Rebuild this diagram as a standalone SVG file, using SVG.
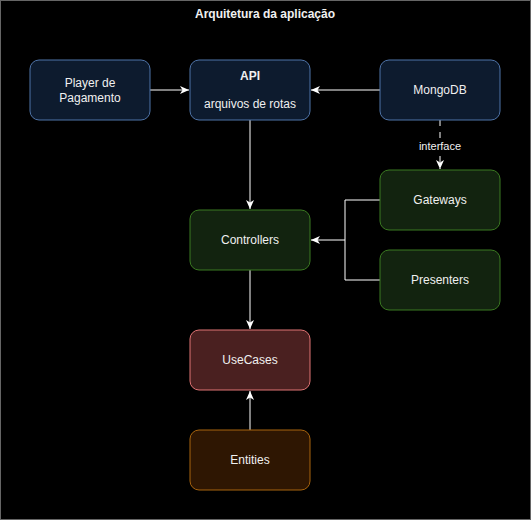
<svg xmlns="http://www.w3.org/2000/svg" width="532" height="521" viewBox="0 0 532 521">
<defs>
<style>
text{font-family:"Liberation Sans",Arial,sans-serif;font-size:12px;fill:#f0f0f0;text-anchor:middle;dominant-baseline:central}
.blue{fill:#0d1b2e;stroke:#4f74a8;stroke-width:1}
.green{fill:#12230f;stroke:#3b7a22;stroke-width:1}
.red{fill:#4a2020;stroke:#e07474;stroke-width:1}
.brown{fill:#2e1602;stroke:#a8640e;stroke-width:1}
.edge{fill:none;stroke:#ffffff;stroke-width:1}
</style>
<marker id="arr" viewBox="0 0 10 10" refX="9" refY="5" markerWidth="10" markerHeight="10" markerUnits="userSpaceOnUse" orient="auto">
<path d="M0,1 L9,5 L0,9 L2.5,5 Z" fill="#ffffff"/>
</marker>
</defs>
<rect x="0.5" y="0.5" width="530" height="519" fill="#000000" stroke="#666666"/>
<text x="265" y="14" style="font-weight:bold">Arquitetura da aplicação</text>
<g id="connectors">
<path class="edge" d="M150,90 L189,90" marker-end="url(#arr)"/>
<path class="edge" d="M380,90 L311,90" marker-end="url(#arr)"/>
<path class="edge" d="M250,120 L250,209" marker-end="url(#arr)"/>
<path class="edge" d="M440,120 L440,169" stroke-dasharray="6 6" marker-end="url(#arr)"/>
<rect x="417" y="139" width="46" height="14" fill="#000000"/>
<text x="440" y="146" style="font-size:11px">interface</text>
<path class="edge" d="M380,200 L345,200 L345,240 L311,240" marker-end="url(#arr)"/>
<path class="edge" d="M380,280 L345,280 L345,240"/>
<path class="edge" d="M250,270 L250,329" marker-end="url(#arr)"/>
<path class="edge" d="M250,430 L250,391" marker-end="url(#arr)"/>
</g>
<g id="player"><rect class="blue" x="30" y="60" width="120" height="60" rx="9"/><text x="90" y="83">Player de</text><text x="90" y="98">Pagamento</text></g>
<g id="api"><rect class="blue" x="190" y="60" width="120" height="60" rx="9"/><text x="250" y="76" style="font-weight:bold">API</text><text x="250" y="104">arquivos de rotas</text></g>
<g id="mongodb"><rect class="blue" x="380" y="60" width="120" height="60" rx="9"/><text x="440" y="90">MongoDB</text></g>
<g id="gateways"><rect class="green" x="380" y="170" width="120" height="60" rx="9"/><text x="440" y="200">Gateways</text></g>
<g id="controllers"><rect class="green" x="190" y="210" width="120" height="60" rx="9"/><text x="250" y="240">Controllers</text></g>
<g id="presenters"><rect class="green" x="380" y="250" width="120" height="60" rx="9"/><text x="440" y="280">Presenters</text></g>
<g id="usecases"><rect class="red" x="190" y="330" width="120" height="60" rx="9"/><text x="250" y="360">UseCases</text></g>
<g id="entities"><rect class="brown" x="190" y="430" width="120" height="60" rx="9"/><text x="250" y="460">Entities</text></g>
</svg>
